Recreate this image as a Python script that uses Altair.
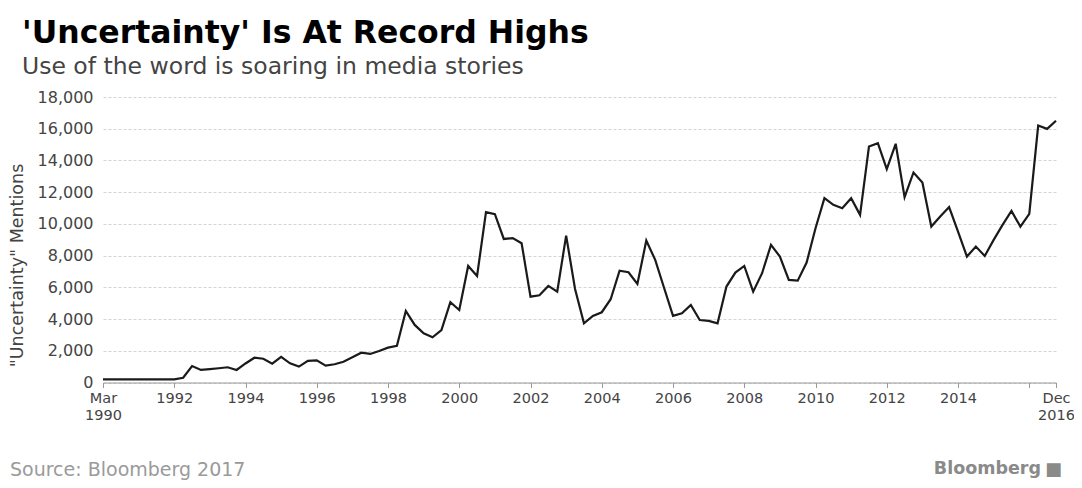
import altair as alt
import pandas as pd

# Quarterly "uncertainty" mentions, Mar 1990 .. Dec 2016
mentions = [
    200, 200, 200, 200, 200, 200, 200, 200, 200,          # Mar 1990 - Mar 1992
    300, 1040, 790, 840, 900, 960, 790, 1200,             # Jun 1992 - Mar 1994
    1560, 1500, 1190, 1610, 1210, 1000, 1360, 1400,       # Jun 1994 - Mar 1996
    1060, 1150, 1310, 1590, 1880, 1800, 1990, 2200,       # Jun 1996 - Mar 1998
    2320, 4510, 3630, 3100, 2850, 3310, 5060, 4570,       # Jun 1998 - Mar 2000
    7350, 6720, 10740, 10610, 9050, 9100, 8780, 5410,     # Jun 2000 - Mar 2002
    5500, 6090, 5730, 9260, 5900, 3730, 4200, 4430,       # Jun 2002 - Mar 2004
    5250, 7050, 6950, 6210, 8950, 7730, 5960, 4200,       # Jun 2004 - Mar 2006
    4360, 4890, 3940, 3880, 3730, 6050, 6930, 7350,       # Jun 2006 - Mar 2008
    5730, 6890, 8680, 7940, 6470, 6420, 7560, 9730,       # Jun 2008 - Mar 2010
    11620, 11200, 10990, 11620, 10570, 14880, 15090, 13450,  # Jun 2010 - Mar 2012
    15050, 11680, 13240, 12610, 9830, 10460, 11060, 9510,    # Jun 2012 - Mar 2014
    7940, 8570, 7980, 8990, 9940, 10820, 9830, 10630,        # Jun 2014 - Mar 2016
    16200, 15990, 16500,                                     # Jun 2016 - Dec 2016
]
years = list(range(1990, 2017))
months = ["Mar", "Jun", "Sep", "Dec"]
quarters = [f"{m} {y}" for y in years for m in months]

x_ticks = list(range(0, 105, 8)) + [107]
y_ticks = list(range(0, 18001, 2000))

df = pd.DataFrame({"quarter": quarters, "idx": list(range(len(quarters))), "mentions": mentions})

W, H = 953, 285.5

line = alt.Chart(df).mark_line(color="#1a1a1a", strokeWidth=2.2).encode(
    x=alt.X(
        "idx:Q",
        scale=alt.Scale(domain=[0, 107], nice=False, zero=False),
        axis=alt.Axis(
            title=None,
            values=x_ticks,
            labelExpr="datum.value == 0 ? ['Mar', '1990'] : datum.value == 107 ? ['Dec', '2016'] : datum.value == 104 ? '' : '' + (1990 + datum.value / 4)",
            grid=False,
            domainColor="#999999",
            tickColor="#999999",
            tickSize=5,
            labelPadding=4,
            labelFont="DejaVu Sans",
            labelFontSize=14.5,
            labelColor="#444444",
            labelLineHeight=17,
            labelBaseline="top",
            labelFlush=False,
            labelOverlap=False,
        ),
    ),
    y=alt.Y(
        "mentions:Q",
        scale=alt.Scale(domain=[0, 18000], nice=False),
        axis=alt.Axis(
            title='"Uncertainty" Mentions',
            values=y_ticks,
            format=",d",
            domain=False,
            ticks=False,
            labelPadding=10,
            labelFont="DejaVu Sans",
            labelFontSize=16,
            labelColor="#444444",
            gridColor="#d4d4d4",
            gridDash=[3, 2],
            gridWidth=1,
            titleFont="DejaVu Sans",
            titleFontSize=17.5,
            titleFontWeight="normal",
            titleColor="#444444",
            titleX=-77,
            titleY=168,
            titleAngle=-90,
            titleBaseline="bottom",
        ),
    ),
    tooltip=["quarter:N", "mentions:Q"],
)

source = alt.Chart(pd.DataFrame({"t": ["Source: Bloomberg 2017"]})).mark_text(
    align="left", baseline="alphabetic", font="DejaVu Sans", fontSize=19, color="#9a9a9a"
).encode(x=alt.value(-93), y=alt.value(379), text="t:N")

brand = alt.Chart(pd.DataFrame({"t": ["Bloomberg"]})).mark_text(
    align="right", baseline="alphabetic", font="DejaVu Sans", fontSize=17.5, fontWeight="bold", color="#8a8a8a"
).encode(x=alt.value(938), y=alt.value(377), text="t:N")

icon = alt.Chart(pd.DataFrame({"t": ["■"]})).mark_text(
    align="left", baseline="alphabetic", font="DejaVu Sans", fontSize=18, color="#8a8a8a"
).encode(x=alt.value(942), y=alt.value(378), text="t:N")

chart = alt.layer(line, source, brand, icon).properties(
    width=W,
    height=H,
    autosize=alt.AutoSizeParams(type="none"),
    padding={"left": 95, "top": 89, "right": 18, "bottom": 97.5},
    title=alt.TitleParams(
        text="'Uncertainty' Is At Record Highs",
        subtitle="Use of the word is soaring in media stories",
        anchor="start",
        frame="group",
        dx=-81,
        offset=11,
        font="DejaVu Sans",
        fontSize=31.5,
        fontWeight="bold",
        color="#000000",
        subtitleFont="DejaVu Sans",
        subtitleFontSize=23.5,
        subtitleColor="#444444",
        subtitlePadding=5,
    ),
).configure_view(stroke=None)

chart.save("out.html", embed_options={"renderer": "svg", "actions": False})
